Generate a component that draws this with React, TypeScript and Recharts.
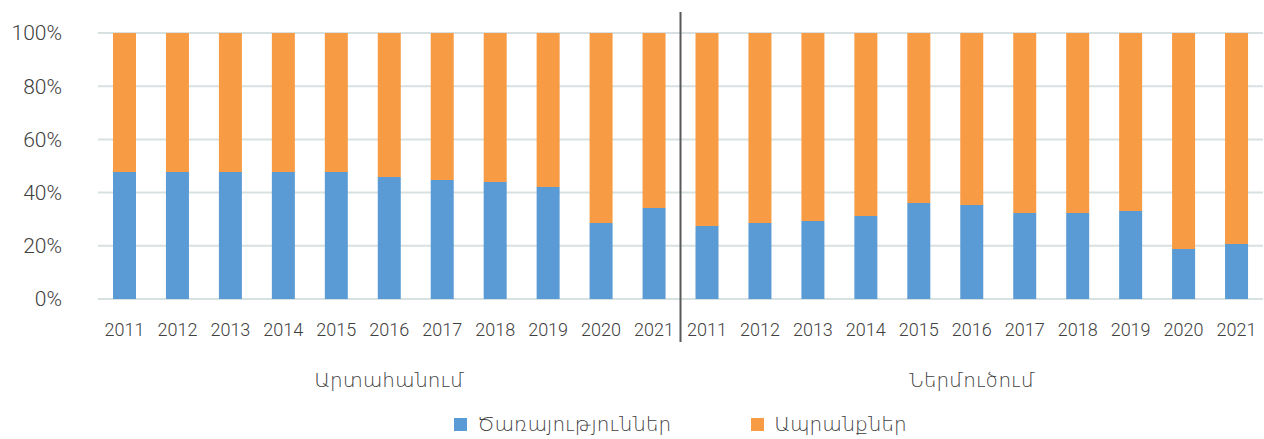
import React from "react";
import {
  Bar,
  BarChart,
  CartesianGrid,
  Legend,
  XAxis,
  YAxis,
} from "recharts";

const years = ["2011", "2012", "2013", "2014", "2015", "2016", "2017", "2018", "2019", "2020", "2021"];
const groups = ["Արտահանում", "Ներմուծում"];
const seriesNames = ["Ծառայություններ", "Ապրանքներ"];

// shares in %
const exportServices = [47.7, 47.7, 47.7, 47.7, 47.7, 45.9, 44.7, 44.0, 42.1, 28.6, 34.2];
const exportGoods = [52.3, 52.3, 52.3, 52.3, 52.3, 54.1, 55.3, 56.0, 57.9, 71.4, 65.8];
const importServices = [27.4, 28.6, 29.3, 31.2, 36.1, 35.3, 32.3, 32.3, 33.1, 18.8, 20.7];
const importGoods = [72.6, 71.4, 70.7, 68.8, 63.9, 64.7, 67.7, 67.7, 66.9, 81.2, 79.3];

const yTicks = [0, 0.2, 0.4, 0.6, 0.8, 1];

const data = [
  ...years.map((y, i) => ({ year: y, group: groups[0], services: exportServices[i], goods: exportGoods[i] })),
  ...years.map((y, i) => ({ year: y, group: groups[1], services: importServices[i], goods: importGoods[i] })),
];

const FONT = "Roboto, 'DejaVu Sans', sans-serif";
const TEXT = "#404040";
const BLUE = "#5B9BD5";
const ORANGE = "#F89B45";

const YearTick = (props: any) => {
  const { x, y, payload, index } = props;
  const half = payload?.offset ?? 26.5;
  return (
    <g>
      <text x={x} y={y + 28} textAnchor="middle" dominantBaseline="central" fontSize={18} fill={TEXT} fontFamily={FONT} fontWeight={300}>
        {payload.value}
      </text>
      {index === years.length && (
        <line x1={x - half} x2={x - half} y1={y - 289} y2={y + 41} stroke="#595959" strokeWidth={2} />
      )}
    </g>
  );
};

const GroupTick = (props: any) => {
  const { x, y, payload, index } = props;
  const mid = Math.floor(years.length / 2);
  if (index % years.length !== mid) return <g />;
  return (
    <text x={x} y={y + 29} textAnchor="middle" dominantBaseline="central" fontSize={20} fill={TEXT} fontFamily={FONT} fontWeight={300}>
      {payload.value}
    </text>
  );
};

const LegendContent = (props: any) => {
  const items = [...(props.payload || [])].sort(
    (a: any, b: any) => seriesNames.indexOf(a.value) - seriesNames.indexOf(b.value)
  );
  return (
    <div style={{ display: "flex", justifyContent: "center", gap: 80, paddingTop: 13, paddingLeft: 98, fontFamily: FONT, fontSize: 20, color: TEXT, fontWeight: 300 }}>
      {items.map((it: any) => (
        <div key={it.value} style={{ display: "flex", alignItems: "center" }}>
          <span style={{ display: "inline-block", width: 13, height: 13, background: it.color, marginRight: 10 }} />
          <span>{it.value}</span>
        </div>
      ))}
    </div>
  );
};

export default function App() {
  return (
    <div>
      <style>{`body{margin:0;}`}</style>
      <BarChart
        width={1264}
        height={439}
        data={data}
        stackOffset="expand"
        barCategoryGap={15}
        margin={{ top: 33, right: 1, left: 0, bottom: 0 }}
      >
        <CartesianGrid vertical={false} stroke="#D8E1E1" strokeWidth={2} />
        <XAxis dataKey="year" interval={0} axisLine={false} tickLine={false} tickSize={0} height={50} tick={<YearTick />} />
        <XAxis xAxisId="grp" dataKey="group" interval={0} axisLine={false} tickLine={false} tickSize={0} height={50} tick={<GroupTick />} />
        <YAxis
          width={98}
          ticks={yTicks}
          domain={[0, 1]}
          axisLine={false}
          tickLine={false}
          tickSize={0}
          tickMargin={36}
          tickFormatter={(v: number) => `${Math.round(v * 100)}%`}
          tick={{ fontSize: 21, fill: TEXT, fontFamily: FONT, fontWeight: 300 }}
        />
        <Legend verticalAlign="bottom" height={40} content={<LegendContent />} />
        <Bar dataKey="services" name={seriesNames[0]} stackId="a" fill={BLUE} isAnimationActive={false} />
        <Bar dataKey="goods" name={seriesNames[1]} stackId="a" fill={ORANGE} isAnimationActive={false} />
      </BarChart>
    </div>
  );
}
